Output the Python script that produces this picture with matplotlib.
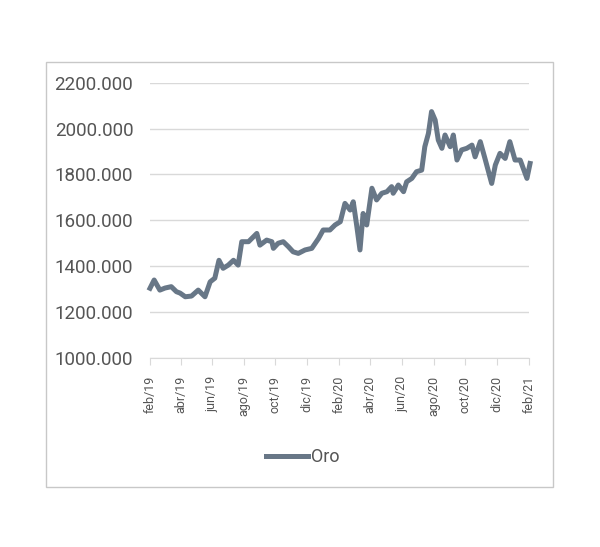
import numpy as np
import pandas as pd
import matplotlib
matplotlib.use('Agg')
import matplotlib.pyplot as plt
from matplotlib.patches import Rectangle

plt.rcParams['font.family'] = ['Roboto', 'DejaVu Sans']

# gold price
fechas = pd.to_datetime([
    '2019-02-01', '2019-02-09', '2019-02-20', '2019-03-02', '2019-03-14',
    '2019-03-24', '2019-03-31', '2019-04-10', '2019-04-22', '2019-05-05',
    '2019-05-18', '2019-05-28', '2019-06-06', '2019-06-14', '2019-06-22',
    '2019-07-02', '2019-07-12', '2019-07-21', '2019-07-28', '2019-08-10',
    '2019-08-26', '2019-09-01', '2019-09-14', '2019-09-24', '2019-09-27',
    '2019-10-06', '2019-10-16', '2019-10-26', '2019-11-04', '2019-11-14',
    '2019-11-27', '2019-12-10', '2019-12-23', '2020-01-01', '2020-01-14',
    '2020-01-24', '2020-02-03', '2020-02-12', '2020-02-22', '2020-02-28',
    '2020-03-06', '2020-03-12', '2020-03-18', '2020-03-25', '2020-04-04',
    '2020-04-13', '2020-04-23', '2020-05-03', '2020-05-12', '2020-05-15',
    '2020-05-25', '2020-06-04', '2020-06-10', '2020-06-20', '2020-06-29',
    '2020-07-09', '2020-07-15', '2020-07-22', '2020-07-28', '2020-08-04',
    '2020-08-10', '2020-08-17', '2020-08-23', '2020-09-02', '2020-09-08',
    '2020-09-15', '2020-09-24', '2020-10-04', '2020-10-14', '2020-10-20',
    '2020-10-30', '2020-11-08', '2020-11-21', '2020-11-28', '2020-12-07',
    '2020-12-17', '2020-12-26', '2021-01-05', '2021-01-15', '2021-01-28',
    '2021-02-03'])
oro = [1304, 1340, 1296, 1305, 1311, 1289, 1283, 1267, 1270, 1296,
       1267, 1332, 1348, 1426, 1391, 1405, 1426, 1405, 1507, 1507,
       1543, 1492, 1514, 1507, 1478, 1500, 1507, 1485, 1463, 1456,
       1471, 1478, 1521, 1558, 1558, 1580, 1594, 1674, 1645, 1681,
       1572, 1471, 1630, 1580, 1740, 1689, 1718, 1725, 1747, 1718,
       1754, 1725, 1768, 1783, 1812, 1819, 1921, 1979, 2074, 2037,
       1950, 1914, 1972, 1921, 1972, 1863, 1907, 1914, 1928, 1877,
       1943, 1870, 1761, 1841, 1892, 1870, 1943, 1863, 1863, 1783,
       1848]

tick_dates = pd.date_range('2019-02-01', '2021-02-01', freq='2MS')
meses = ['ene', 'feb', 'mar', 'abr', 'may', 'jun', 'jul', 'ago', 'sep', 'oct', 'nov', 'dic']
tick_labels = [meses[d.month - 1] + '/' + str(d.year)[2:] for d in tick_dates]
y_ticks = np.arange(1000, 2201, 200)

line_color = '#687787'
text_color = '#555555'

fig = plt.figure(figsize=(6, 5.47), dpi=100)
ax = fig.add_axes([0.25, 0.3455, 0.6317, 0.5033])

ax.plot(fechas, oro, color=line_color, lw=3.6, label='Oro',
        solid_joinstyle='round', clip_on=False)

ax.set_ylim(1000, 2200)
ax.set_yticks(y_ticks)
ax.set_yticklabels(['{:.3f}'.format(v) for v in y_ticks],
                   fontsize=13.5, color=text_color)
ax.set_xlim(tick_dates[0], tick_dates[-1])
ax.set_xticks(tick_dates)
ax.set_xticklabels(tick_labels, rotation=90, fontsize=9, color=text_color)

ax.grid(axis='y', color='#d9d9d9', lw=1)
ax.set_axisbelow(True)
for s in ['top', 'right', 'left']:
    ax.spines[s].set_visible(False)
ax.spines['bottom'].set_color('#d9d9d9')
ax.tick_params(axis='y', length=0, pad=12)
ax.tick_params(axis='x', length=5, color='#d9d9d9', pad=8)

fig.legend(loc='center', bbox_to_anchor=(0.505, 0.1645), frameon=False,
           fontsize=13, handlelength=2.3, handletextpad=0.2,
           labelcolor=text_color)

fig.patches.append(Rectangle((46 / 600, 1 - 487 / 547), 507 / 600, 425 / 547,
                             transform=fig.transFigure, fill=False,
                             edgecolor='#c8c8c8', lw=1))

fig.savefig('out.png', dpi=100)
